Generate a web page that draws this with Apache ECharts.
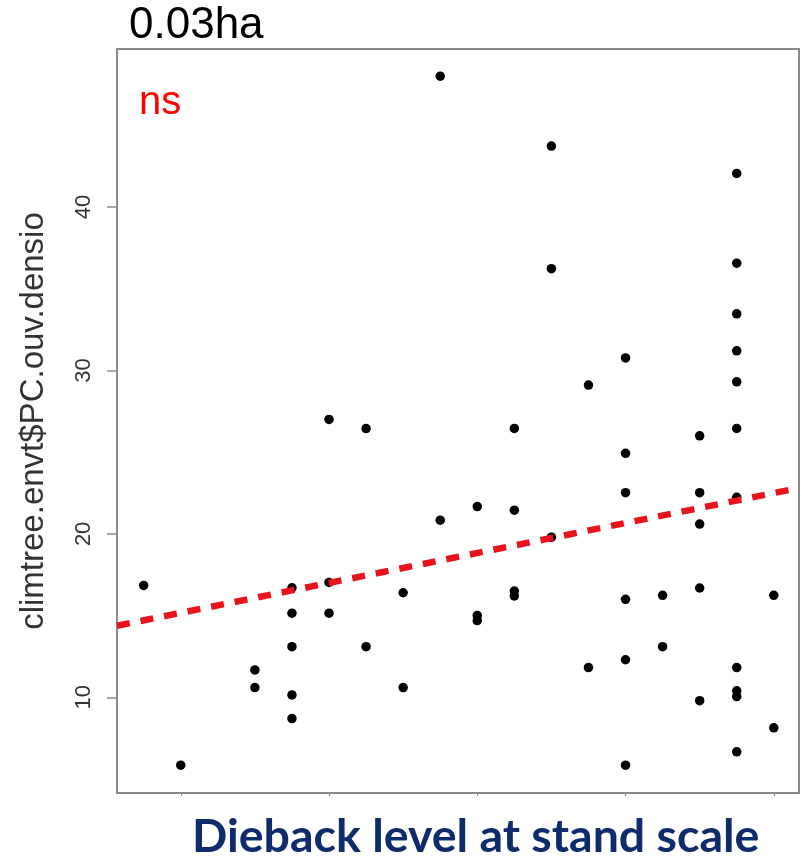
<!DOCTYPE html>
<html>
<head>
<meta charset="utf-8">
<script src="https://cdn.jsdelivr.net/npm/echarts@6/dist/echarts.min.js"></script>
<style>
html,body{margin:0;padding:0;background:#fff;}
#chart{width:805px;height:861px;}
</style>
</head>
<body>
<div id="chart"></div>
<script>
// Dieback level (x) and climtree.envt$PC.ouv.densio (y)
const dieback = [
  0.75,
  1.0,
  1.5, 1.5,
  1.75, 1.75, 1.75, 1.75, 1.75,
  2.0, 2.0, 2.0,
  2.25, 2.25,
  2.5, 2.5,
  2.75, 2.75,
  3.0, 3.0, 3.0,
  3.25, 3.25, 3.25, 3.25,
  3.5, 3.5, 3.5,
  3.75, 3.75,
  4.0, 4.0, 4.0, 4.0, 4.0, 4.0,
  4.25, 4.25,
  4.5, 4.5, 4.5, 4.5, 4.5,
  4.75, 4.75, 4.75, 4.75, 4.75, 4.75, 4.75, 4.75, 4.75, 4.75, 4.75,
  5.0, 5.0
];
const densio = [
  16.85,
  5.85,
  11.68, 10.6,
  16.7, 15.15, 13.1, 10.15, 8.7,
  27.0, 17.03, 15.15,
  26.44, 13.1,
  16.4, 10.6,
  48.0, 20.84,
  21.67, 15.0, 14.7,
  26.45, 21.45, 16.5, 16.2,
  43.72, 36.22, 19.8,
  29.1, 11.82,
  30.76, 24.93, 22.52, 16.0, 12.3, 5.85,
  16.24, 13.1,
  26.0, 22.52, 20.6, 16.69, 9.8,
  42.05, 36.56, 33.46, 31.2, 29.3, 26.45, 22.24, 11.82, 10.4, 10.05, 6.67,
  16.24, 8.14
];
// Fitted (non-significant) trend line, endpoints read at the plot edges
const trendX = [0.57, 5.17];
const trendY = [14.38, 22.81];
// Axis ticks
const xTicks = [1, 2, 3, 4, 5];
const yTicks = [10, 20, 30, 40];

const points = dieback.map((x, i) => [x, densio[i]]);
const trend = trendX.map((x, i) => [x, trendY[i]]);

const chart = echarts.init(document.getElementById('chart'), null, {renderer: 'canvas'});
chart.setOption({
  animation: false,
  backgroundColor: '#ffffff',
  title: [
    {text: '0.03ha', left: 129, top: 4, padding: 0,
     textStyle: {fontSize: 44, fontWeight: 'normal', color: '#000', fontFamily: 'Liberation Sans'}},
    {text: 'ns', left: 139, top: 83, padding: 0,
     textStyle: {fontSize: 40, fontWeight: 'normal', color: '#ff0000', fontFamily: 'Liberation Sans'}},
    {text: 'Dieback level at stand scale', left: 192, top: 813, padding: 0,
     textStyle: {fontSize: 46.5, fontWeight: 'bold', color: '#0e2b6c', fontFamily: 'Lato'}}
  ],
  grid: {left: 117, right: 6, top: 49, bottom: 68, show: true, borderColor: '#8a8a8a', borderWidth: 2, backgroundColor: 'transparent'},
  xAxis: {
    type: 'value', min: 0.57, max: 5.17,
    axisLine: {show: false},
    axisTick: {show: true, customValues: xTicks, length: 3, lineStyle: {color: '#8a8a8a', width: 1}},
    axisLabel: {show: false},
    splitLine: {show: false}
  },
  yAxis: {
    type: 'value', min: 4.15, max: 49.66,
    name: 'climtree.envt$PC.ouv.densio',
    nameLocation: 'middle', nameRotate: 90, nameGap: 67,
    nameTextStyle: {fontSize: 33, color: '#333', fontFamily: 'Liberation Sans'},
    axisLine: {show: false},
    axisTick: {show: true, customValues: yTicks, length: 10, lineStyle: {color: '#8a8a8a', width: 1.5}},
    axisLabel: {show: true, customValues: yTicks, rotate: 90, margin: 22, fontSize: 22, color: '#333', fontFamily: 'Liberation Sans'},
    splitLine: {show: false}
  },
  series: [
    {type: 'scatter', data: points, symbol: 'circle', symbolSize: 9.5,
     itemStyle: {color: '#000', opacity: 1}, z: 2},
    {type: 'line', data: trend, showSymbol: false, symbol: 'none', clip: true,
     lineStyle: {color: '#e8131b', width: 6.5, type: [13, 11], cap: 'butt'}, z: 3}
  ]
});
</script>
</body>
</html>
